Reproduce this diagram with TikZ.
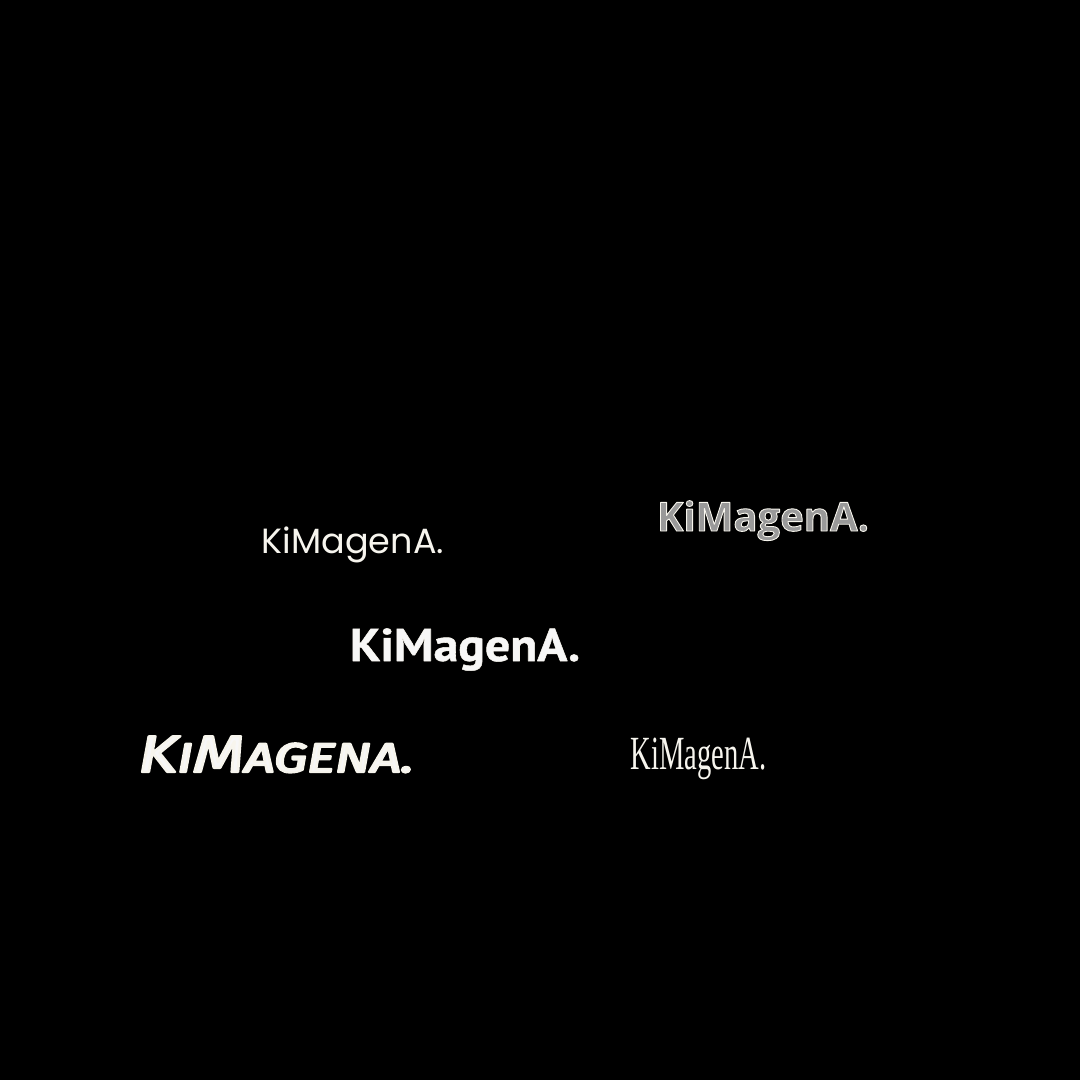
\documentclass[tikz,border=0pt]{standalone}
\usepackage{fontspec}
\newfontfamily\fa{Poppins}
\newfontfamily\fc{Fira Sans}
\newfontfamily\fd{Open Sans}
\newfontfamily\fe{Liberation Serif}
\newfontfamily\ff{PT Sans}
\definecolor{ink}{HTML}{F7F5EE}
\newcommand{\strokedtext}[3]{\special{pdf:code q 2 Tr #1 w 1 j 0.97 0.96 0.93 RG #2 g}#3\special{pdf:code Q}}
\newcommand{\smallcap}[1]{{\fontsize{41}{41}\selectfont #1}}
\tikzset{logo/.style={text=ink,inner sep=0pt,anchor=base}}
\begin{document}
\begin{tikzpicture}[x=1pt,y=-1pt]
\useasboundingbox[fill=black] (0,0) rectangle (1080,1080);
\node[logo,font=\fa\fontsize{35}{35}\selectfont] (l1) at (353,553) {KiMagenA.};
\node[logo,font=\fd\bfseries\fontsize{40}{40}\selectfont] (l2) at (763,531) {\strokedtext{0.9}{0.6}{KiMagenA.}};
\node[logo,font=\ff\bfseries\fontsize{46}{46}\selectfont,xscale=1.08] (l3) at (465,661) {\strokedtext{0.5}{0.97}{KiMagenA.}};
\node[logo,font=\fc\itshape\fontsize{52}{52}\selectfont,xscale=1.29] (l4) at (276,772) {\strokedtext{2.2}{0.97}{K\smallcap{I}M\smallcap{AGENA.}}};
\node[logo,font=\fe\fontsize{34}{34}\selectfont,xscale=0.84,yscale=1.4] (l5) at (698.5,769) {KiMagenA.};
\end{tikzpicture}
\end{document}
